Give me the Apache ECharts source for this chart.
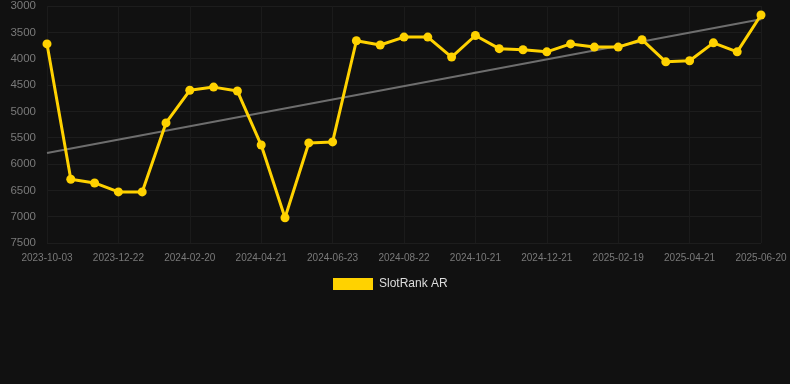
<!DOCTYPE html>
<html>
<head>
<meta charset="utf-8">
<script src="https://cdn.jsdelivr.net/npm/echarts@6/dist/echarts.min.js"></script>
<style>
  html, body { margin: 0; padding: 0; background: #111111; }
  #chart { width: 790px; height: 384px; }
</style>
</head>
<body>
<div id="chart"></div>
<script>
// categories (dates), labels shown every third one
var dates = [
  '2023-10-03', '2023-10-30', '2023-11-26', '2023-12-22', '2024-01-11', '2024-01-31',
  '2024-02-20', '2024-03-11', '2024-04-01', '2024-04-21', '2024-05-12', '2024-06-02',
  '2024-06-23', '2024-07-13', '2024-08-02', '2024-08-22', '2024-09-11', '2024-10-01',
  '2024-10-21', '2024-11-10', '2024-12-01', '2024-12-21', '2025-01-10', '2025-01-30',
  '2025-02-19', '2025-03-11', '2025-04-01', '2025-04-21', '2025-05-11', '2025-05-31',
  '2025-06-20'
];

// SlotRank AR rank values
var rankValues = [
  3720, 6290, 6360, 6530, 6530, 5220, 4600, 4540, 4615, 5640, 7020,
  5600, 5580, 3660, 3740, 3590, 3590, 3970, 3560, 3810, 3830, 3870,
  3720, 3780, 3780, 3640, 4060, 4040, 3700, 3870, 3170
];

// trend line end points (first and last category)
var trendValues = [5790, 3250];

var yTicks = { min: 3000, max: 7500, interval: 500 };

var chart = echarts.init(document.getElementById('chart'));

var option = {
  backgroundColor: '#111111',
  animation: false,
  grid: {
    left: 47,
    right: 29,
    top: 6,
    bottom: 141
  },
  legend: {
    top: 273,
    left: 328,
    itemWidth: 40,
    itemHeight: 12,
    itemGap: 10,
    icon: 'rect',
    data: ['SlotRank AR'],
    textStyle: { color: '#dddddd', fontSize: 12, fontFamily: 'Liberation Sans', padding: [0, 0, 0, 1] }
  },
  xAxis: {
    type: 'category',
    data: dates,
    boundaryGap: false,
    axisLine: { show: false },
    axisTick: { show: false },
    axisLabel: {
      interval: 2,
      color: '#7a7a7a',
      fontSize: 10,
      fontFamily: 'Liberation Sans',
      margin: 10
    },
    splitLine: {
      show: true,
      interval: 2,
      lineStyle: { color: '#1b1b1b', width: 1 }
    }
  },
  yAxis: {
    type: 'value',
    inverse: true,
    min: yTicks.min,
    max: yTicks.max,
    interval: yTicks.interval,
    axisLine: { show: false },
    axisTick: { show: false },
    axisLabel: {
      color: '#7a7a7a',
      fontSize: 11.5,
      fontFamily: 'Liberation Sans',
      margin: 11,
      formatter: function (v) { return String(v); }
    },
    splitLine: {
      lineStyle: { color: '#1d1d1d', width: 1 }
    }
  },
  series: [
    {
      name: 'trend',
      type: 'line',
      data: [[dates[0], trendValues[0]], [dates[dates.length - 1], trendValues[1]]],
      symbol: 'none',
      silent: true,
      lineStyle: { color: '#6e6e6e', width: 2 },
      z: 1
    },
    {
      name: 'SlotRank AR',
      type: 'line',
      data: rankValues,
      symbol: 'circle',
      symbolSize: 9,
      itemStyle: { color: '#ffd200' },
      lineStyle: { color: '#ffd200', width: 3 },
      z: 3
    }
  ]
};

chart.setOption(option);
</script>
</body>
</html>
